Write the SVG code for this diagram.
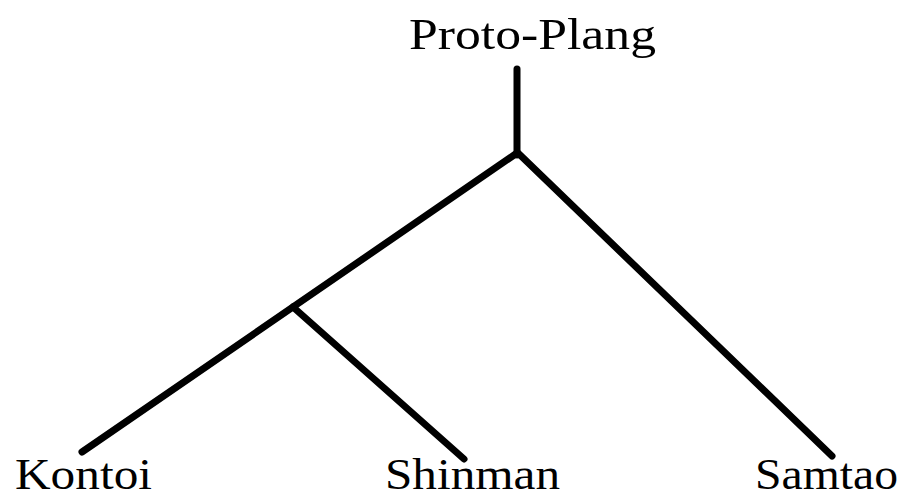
<svg xmlns="http://www.w3.org/2000/svg" width="908" height="500" viewBox="0 0 908 500">
<style>
.lbl{font-family:"Liberation Serif","Times New Roman",serif;font-size:45px;fill:#000}
.br{stroke:#000;stroke-width:7;stroke-linecap:round;fill:none}
</style>
<rect width="908" height="500" fill="#fff"/>
<g id="connectors">
<line class="br" x1="517" y1="69" x2="517" y2="155"/>
<line class="br" x1="517" y1="153" x2="82" y2="452"/>
<line class="br" x1="293" y1="307" x2="464" y2="459"/>
<line class="br" x1="518" y1="153" x2="832" y2="456"/>
</g>
<g id="proto"><text class="lbl" x="409" y="49" textLength="247" lengthAdjust="spacingAndGlyphs">Proto-Plang</text></g>
<g id="kontoi"><text class="lbl" x="15" y="489" textLength="137" lengthAdjust="spacingAndGlyphs">Kontoi</text></g>
<g id="shinman"><text class="lbl" x="385" y="489" textLength="175" lengthAdjust="spacingAndGlyphs">Shinman</text></g>
<g id="samtao"><text class="lbl" x="755" y="489" textLength="143" lengthAdjust="spacingAndGlyphs">Samtao</text></g>
</svg>
